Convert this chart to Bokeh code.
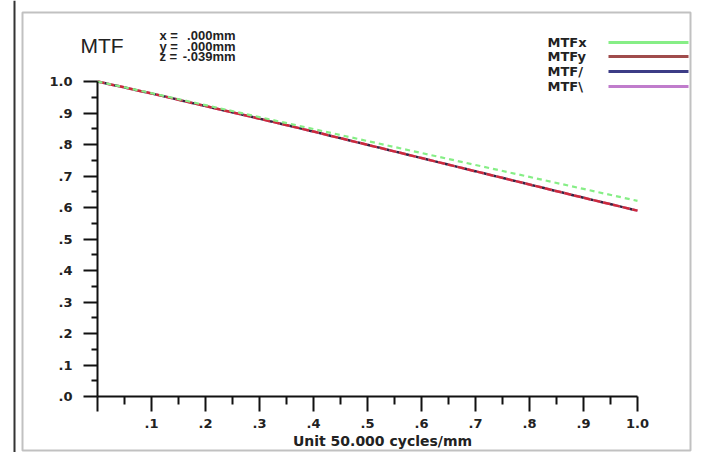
from bokeh.plotting import figure
from bokeh.models import Range1d, FixedTicker, Label, BoxAnnotation
from bokeh.embed import file_html
from bokeh.resources import INLINE

# ---- data ----
freq = [0.0, 0.1, 0.2, 0.3, 0.4, 0.5, 0.6, 0.7, 0.8, 0.9, 1.0]
mtf_x = [1.000, 0.963, 0.925, 0.887, 0.849, 0.811, 0.773, 0.735, 0.697, 0.659, 0.621]
mtf_y = [1.000, 0.962, 0.922, 0.882, 0.841, 0.799, 0.757, 0.715, 0.673, 0.631, 0.590]
mtf_slash = [1.000, 0.962, 0.922, 0.882, 0.841, 0.799, 0.757, 0.715, 0.673, 0.631, 0.590]
mtf_bslash = [1.000, 0.962, 0.922, 0.882, 0.841, 0.799, 0.757, 0.715, 0.673, 0.631, 0.590]

tick_vals = [0.0, 0.1, 0.2, 0.3, 0.4, 0.5, 0.6, 0.7, 0.8, 0.9, 1.0]
minor_vals = [0.05, 0.15, 0.25, 0.35, 0.45, 0.55, 0.65, 0.75, 0.85, 0.95]
y_tick_labels = [".0", ".1", ".2", ".3", ".4", ".5", ".6", ".7", ".8", ".9", "1.0"]
x_tick_labels = ["", ".1", ".2", ".3", ".4", ".5", ".6", ".7", ".8", ".9", "1.0"]

series_names = ["MTFx", "MTFy", "MTF/", "MTF\\"]
series_colors = ["#86ee86", "#a04c4c", "#3c3c86", "#c07ccc"]
x_axis_title = "Unit 50.000 cycles/mm"
pos_names = ["x =", "y =", "z ="]
pos_values = [".000mm", ".000mm", "-.039mm"]

W, H = 692, 452
X0, Y0 = 97, 396       # canvas position of the data origin
SX, SY = 540.0, 315.0  # pixels per unit

p = figure(width=W, height=H,
           x_range=Range1d(-X0 / SX, (W - X0) / SX),
           y_range=Range1d(-(H - Y0) / SY, Y0 / SY),
           output_backend="svg", toolbar_location=None,
           min_border=0, min_border_left=0, min_border_right=0,
           min_border_top=0, min_border_bottom=0)
p.outline_line_color = None
p.grid.visible = False
p.background_fill_color = "white"
p.border_fill_color = "white"


def dx(cx):
    return (cx - X0) / SX


def dy(cy):
    return (Y0 - cy) / SY


# curves
p.line(freq, mtf_bslash, line_color=series_colors[3], line_width=2.5, line_dash="7 3")
p.line(freq, mtf_slash, line_color="#3a2040", line_width=2.5, line_dash="3 7", line_dash_offset=3)
p.line(freq, mtf_y, line_color="#cc2a3a", line_width=2.5, line_dash="7 3")
p.line(freq, mtf_x, line_color=series_colors[0], line_width=2.2, line_dash="5 4")

# axes
for ax, out, mout, labels, stand in ((p.xaxis[0], 15, 8, x_tick_labels, 7),
                                     (p.yaxis[0], 14, 6, y_tick_labels, 11)):
    ax.fixed_location = 0
    ax.ticker = FixedTicker(ticks=tick_vals, minor_ticks=minor_vals)
    ax.bounds = (0, 1)
    ax.major_label_overrides = {t: l for t, l in zip(tick_vals, labels)}
    ax.axis_line_width = 2
    ax.axis_line_color = "#111111"
    ax.major_tick_line_width = 2
    ax.minor_tick_line_width = 2
    ax.major_tick_line_color = "#111111"
    ax.minor_tick_line_color = "#111111"
    ax.major_tick_out = out
    ax.major_tick_in = 0
    ax.minor_tick_out = mout
    ax.minor_tick_in = 0
    ax.major_label_standoff = stand
    ax.major_label_text_font = "DejaVu Sans"
    ax.major_label_text_font_style = "bold"
    ax.major_label_text_font_size = "13px"
    ax.major_label_text_color = "#222222"

# frame decorations
p.add_layout(BoxAnnotation(left=22, right=690, top=12, bottom=450,
                           left_units="canvas", right_units="canvas",
                           top_units="canvas", bottom_units="canvas",
                           fill_alpha=0, line_color="#333333", line_width=2))
p.add_layout(BoxAnnotation(left=13, right=15, top=0, bottom=452,
                           left_units="canvas", right_units="canvas",
                           top_units="canvas", bottom_units="canvas",
                           fill_color="#333333", fill_alpha=1, line_alpha=0))

# texts
p.add_layout(Label(x=dx(80), y=dy(45), text="MTF", text_font="Liberation Sans",
                   text_font_size="21px", text_baseline="middle", text_color="#222222"))
for i, (n, v) in enumerate(zip(pos_names, pos_values)):
    cy = [35, 45.5, 56][i]
    p.add_layout(Label(x=dx(159), y=dy(cy), text=n, text_font="Liberation Sans",
                       text_font_style="bold", text_font_size="13px",
                       text_baseline="middle", text_color="#222222"))
    p.add_layout(Label(x=dx(235), y=dy(cy), text=v, text_font="Liberation Sans",
                       text_font_style="bold", text_font_size="13px", text_align="right",
                       text_baseline="middle", text_color="#222222"))

p.add_layout(Label(x=dx(382), y=dy(440), text=x_axis_title, text_font="DejaVu Sans",
                   text_font_style="bold", text_font_size="14px", text_align="center",
                   text_baseline="middle", text_color="#222222"))

# legend
for i, (n, c) in enumerate(zip(series_names, series_colors)):
    cy = [42, 56, 71, 86][i]
    p.add_layout(Label(x=dx(547), y=dy(cy), text=n, text_font="DejaVu Sans",
                       text_font_style="bold", text_font_size="13px",
                       text_baseline="middle", text_color="#222222"))
    p.add_layout(BoxAnnotation(left=608, right=688, top=cy - 1.5, bottom=cy + 1.5,
                               left_units="canvas", right_units="canvas",
                               top_units="canvas", bottom_units="canvas",
                               fill_color=c, fill_alpha=1, line_alpha=0))

open("out.html", "w").write(file_html(p, INLINE))
